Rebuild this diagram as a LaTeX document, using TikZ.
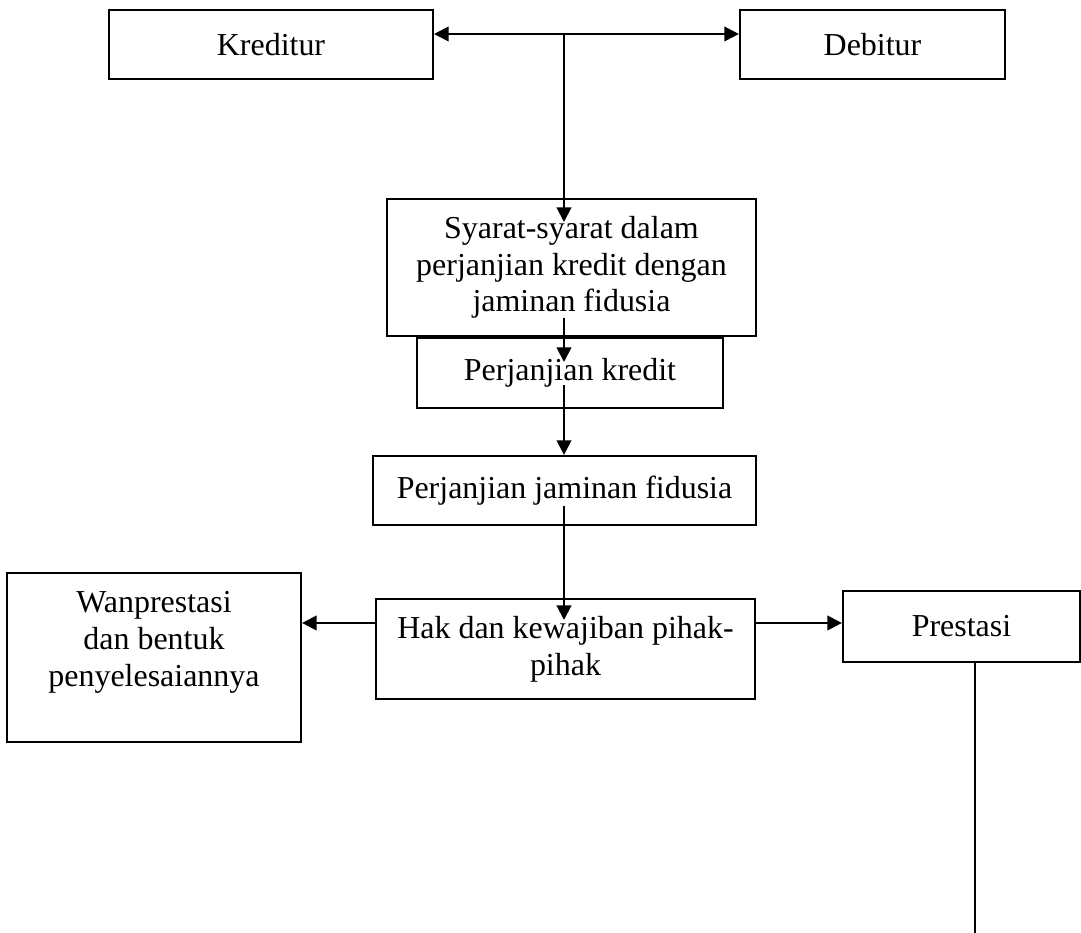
\documentclass[tikz,border=0pt]{standalone}
\usepackage{fontspec}
\setmainfont{Liberation Serif}
\usetikzlibrary{arrows.meta}

\begin{document}
\begin{tikzpicture}[x=0.0132cm,y=-0.0132cm,
        box/.style={draw,line width=0.8pt,inner sep=0pt,align=center,font=\fontsize{12}{13.8}\selectfont},
        arr/.style={line width=0.8pt,-{Triangle[length=5.5pt,width=5.5pt]}}]
            \useasboundingbox (0,0) rectangle (1081,933);
            \node[box,minimum width=324*0.0132cm,minimum height=69*0.0132cm] (kred) at (271,44.5) {Kreditur};
            \node[box,minimum width=265*0.0132cm,minimum height=69*0.0132cm] (debt) at (872.5,44.5) {Debitur};
            \node[box,minimum width=369*0.0132cm,minimum height=137*0.0132cm] (syarat) at (571.5,267.5) {Syarat-syarat dalam\\perjanjian kredit dengan\\jaminan fidusia};
            \node[box,minimum width=306*0.0132cm,minimum height=70*0.0132cm] (pkredit) at (570,373) {Perjanjian kredit};
            \node[box,minimum width=383*0.0132cm,minimum height=69*0.0132cm] (pjamin) at (564.5,490.5) {Perjanjian jaminan fidusia};
            \node[box,minimum width=379*0.0132cm,minimum height=100*0.0132cm] (hak) at (565.5,649) {Hak dan kewajiban pihak-\\pihak};
            \node[box,minimum width=294*0.0132cm,minimum height=169*0.0132cm] (wanp) at (154,657.5) {Wanprestasi\\dan bentuk\\penyelesaiannya\\~};
            \node[box,minimum width=237*0.0132cm,minimum height=71*0.0132cm] (prest) at (961.5,626.5) {Prestasi};

            \coordinate (top) at (564,34);
            \coordinate (s-in) at (564,222);
            \coordinate (s-out) at (564,318);
            \coordinate (k-in) at (564,362);
            \coordinate (k-out) at (564,385);
            \coordinate (j-out) at (564,506);
            \coordinate (h-in) at (564,620);
            \coordinate (mid) at (564,623);
            \coordinate (bot) at (975,933);

            \draw[arr,{Triangle[length=5.5pt,width=5.5pt]}-{Triangle[length=5.5pt,width=5.5pt]}] (kred.east |- top) -- (debt.west |- top);
            \draw[arr] (top) -- (s-in);
            \draw[arr] (s-out) -- (k-in);
            \draw[arr] (k-out) -- (pjamin.north -| top);
            \draw[arr] (j-out) -- (h-in);
            \draw[arr] (hak.west |- mid) -- (wanp.east |- mid);
            \draw[arr] (hak.east |- mid) -- (prest.west |- mid);
            \draw[line width=0.8pt] (prest.south -| bot) -- (bot);
        \end{tikzpicture}
\end{document}
